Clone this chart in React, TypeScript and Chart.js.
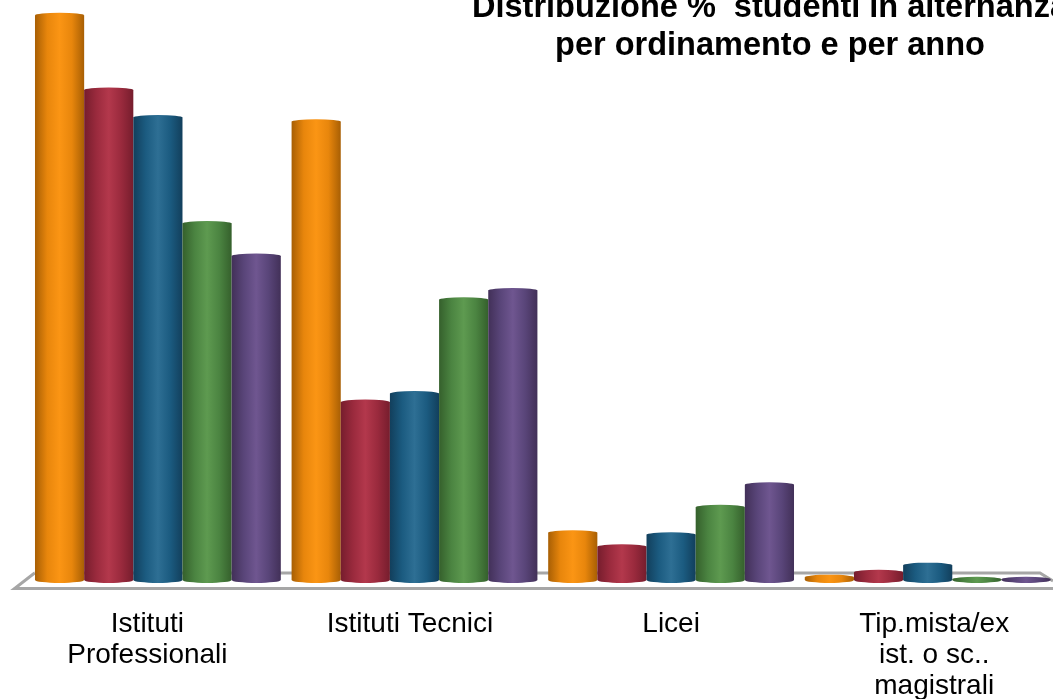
import React, { useEffect, useRef } from "react";
import { Chart, registerables } from "chart.js";

Chart.register(...registerables);

const categories = [
  ["Istituti", "Professionali"],
  ["Istituti Tecnici"],
  ["Licei"],
  ["Tip.mista/ex", "ist. o sc..", "magistrali"],
];
const titleLines = ["Distribuzione %  studenti in alternanza", "per ordinamento e per anno"];
const labelShift = [-10.5, -4.5, 0, 6.5];

const anno1 = [80.0, 64.9, 6.7, 0.4];
const anno2 = [69.4, 25.2, 4.7, 1.1];
const anno3 = [65.5, 26.4, 6.4, 2.1];
const anno4 = [50.5, 39.7, 10.3, 0.1];
const anno5 = [45.9, 41.0, 13.5, 0.1];

const series = [
  { name: "I anno", data: anno1, edge: "#a85f04", mid: "#e8860c", light: "#fb9514" },
  { name: "II anno", data: anno2, edge: "#761d2d", mid: "#9a2a3d", light: "#b3384c" },
  { name: "III anno", data: anno3, edge: "#123f5c", mid: "#1b5b80", light: "#2e6f94" },
  { name: "IV anno", data: anno4, edge: "#35602c", mid: "#4b8441", light: "#5e9a50" },
  { name: "V anno", data: anno5, edge: "#423058", mid: "#594579", light: "#6f5690" },
];

const cylinderPlugin = {
  id: "cylinder",
  beforeDraw(chart: any) {
    const x = chart.scales.x;
    const centers = categories.map((_, i) => x.getPixelForTick(i));
    x.getLabelItems(chart.chartArea).forEach((item: any) => {
      const [tx, ty] = item.options.translation;
      let idx = 0;
      centers.forEach((c: number, i: number) => {
        if (Math.abs(c - tx) < Math.abs(centers[idx] - tx)) idx = i;
      });
      item.options.translation = [tx + labelShift[idx], ty];
    });
  },
  beforeDatasetsDraw(chart: any) {
    const { ctx, chartArea: a } = chart;
    const W = chart.width;
    ctx.save();
    ctx.strokeStyle = "#a6a6a6";
    ctx.lineWidth = 3;
    ctx.beginPath();
    ctx.moveTo(a.left + 5, a.bottom - 7);
    ctx.lineTo(a.left - 15, a.bottom + 8.5);
    ctx.lineTo(W, a.bottom + 8.5);
    ctx.moveTo(a.left + 5, a.bottom - 7);
    ctx.lineTo(a.right - 16, a.bottom - 7);
    ctx.lineTo(a.right - 3, a.bottom + 1);
    ctx.stroke();
    ctx.restore();
  },
  afterDatasetsDraw(chart: any) {
    const { ctx } = chart;
    chart.data.datasets.forEach((_: any, di: number) => {
      const s = series[di];
      chart.getDatasetMeta(di).data.forEach((bar: any) => {
        const w = bar.width;
        const left = bar.x - w / 2;
        const g = ctx.createLinearGradient(left, 0, left + w, 0);
        g.addColorStop(0, s.edge);
        g.addColorStop(0.25, s.mid);
        g.addColorStop(0.5, s.light);
        g.addColorStop(0.75, s.mid);
        g.addColorStop(1, s.edge);
        ctx.save();
        ctx.fillStyle = g;
        ctx.beginPath();
        ctx.moveTo(left, bar.y);
        ctx.lineTo(left, bar.base);
        ctx.ellipse(bar.x, bar.base, w / 2, 3, 0, Math.PI, 0, true);
        ctx.lineTo(left + w, bar.y);
        ctx.closePath();
        ctx.fill();
        ctx.beginPath();
        ctx.ellipse(bar.x, bar.y, w / 2, 2.5, 0, 0, Math.PI * 2);
        ctx.fill();
        ctx.restore();
      });
    });
  },
  afterDraw(chart: any) {
    const { ctx } = chart;
    ctx.save();
    ctx.fillStyle = "#000";
    ctx.font = "bold 32.5px 'Liberation Sans', Arial, sans-serif";
    ctx.textAlign = "center";
    ctx.textBaseline = "alphabetic";
    ctx.fillText(titleLines[0], 770, 17);
    ctx.fillText(titleLines[1], 770, 55);
    ctx.restore();
  },
};

export default function App() {
  const ref = useRef<HTMLCanvasElement>(null);
  useEffect(() => {
    document.body.style.margin = "0";
    document.body.style.overflow = "hidden";
    const chart = new Chart(ref.current!, {
      type: "bar",
      data: {
        labels: categories,
        datasets: series.map((s) => ({
          label: s.name,
          data: s.data,
          backgroundColor: "rgba(0,0,0,0)",
          borderWidth: 0,
          barPercentage: 1,
          categoryPercentage: 0.958,
        })),
      },
      options: {
        responsive: false,
        animation: false,
        layout: { padding: { left: 29.6, right: 0, top: 15.2, bottom: 0 } },
        plugins: { legend: { display: false }, title: { display: false }, tooltip: { enabled: false } },
        scales: {
          x: {
            grid: { display: false },
            border: { display: false },
            afterFit: (scale: any) => {
              scale.height = 119;
            },
            ticks: {
              autoSkip: false,
              maxRotation: 0,
              minRotation: 0,
              padding: 20.5,
              color: "#000",
              font: { family: "'Liberation Sans', Arial, sans-serif", size: 28, lineHeight: 1.107 },
            },
          },
          y: { display: false, min: 0, max: 80 },
        },
      },
      plugins: [cylinderPlugin],
    } as any);
    return () => chart.destroy();
  }, []);
  return (
    <div style={{ position: "fixed", left: 0, top: 0, width: 1053, height: 699, overflow: "hidden", background: "#fff" }}>
      <canvas ref={ref} width={1056} height={699} style={{ display: "block", width: 1056, height: 699 }} />
    </div>
  );
}
